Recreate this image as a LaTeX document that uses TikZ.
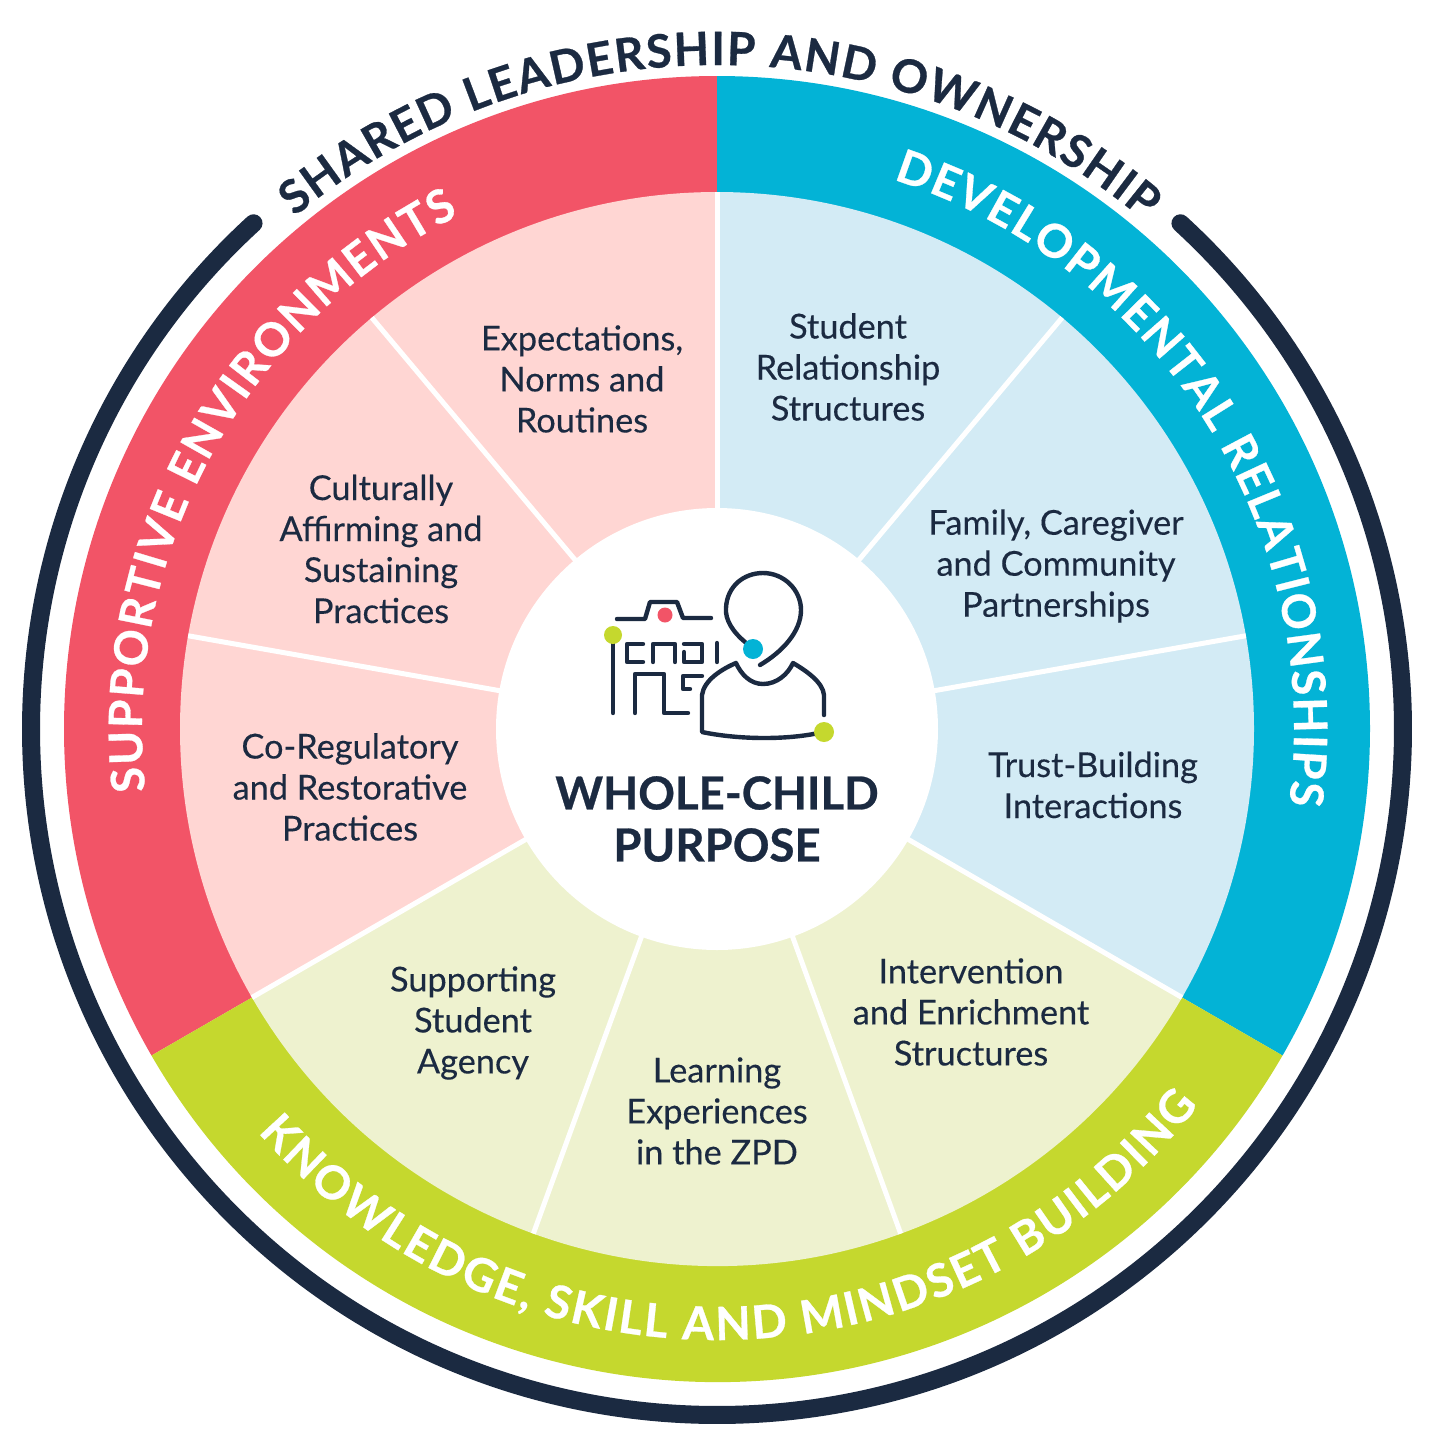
\documentclass[tikz,border=0pt]{standalone}
\usepackage{fontspec}
\setmainfont[FakeBold=0.25,BoldFeatures={FakeBold=0.6}]{Lato}
\usetikzlibrary{decorations.text}
\definecolor{inkdark}{HTML}{1B2A41}
\definecolor{ringred}{HTML}{F25467}
\definecolor{ringcyan}{HTML}{03B3D6}
\definecolor{ringlime}{HTML}{C5D82E}
\definecolor{softred}{HTML}{FFD6D3}
\definecolor{softcyan}{HTML}{D3EBF5}
\definecolor{softlime}{HTML}{EEF2CF}
\newcommand{\ringfont}{\fontsize{46}{46}\selectfont\bfseries}
\tikzset{
  lab/.style={font=\fontsize{34.3}{41}\selectfont, text=inkdark, align=center, inner sep=0pt},
  divider/.style={draw=white, line width=5pt},
  iconline/.style={draw=inkdark, line width=4.4pt, line cap=round, line join=round},
  ringtext/.style={decorate, decoration={text along path, text={#1}, text align={fit to path}}}
}
\begin{document}
\begin{tikzpicture}[x=1pt,y=1pt]
\useasboundingbox (0,0) rectangle (1436,-1444);
\fill[white] (0,0) rectangle (1436,-1444);
\begin{scope}[shift={(717,-729)}]
  % outer dark arc
  \draw[inkdark, line width=18pt, line cap=round] (132.5:686pt) arc (132.5:407.5:686pt);
  % coloured ring
  \fill[ringred] (0,0) -- (90:653pt) arc (90:210:653pt) -- cycle;
  \fill[ringcyan] (0,0) -- (90:653pt) arc (90:-30:653pt) -- cycle;
  \fill[ringlime] (0,0) -- (210:653pt) arc (210:330:653pt) -- cycle;
  % soft sectors
  \fill[softred] (0,0) -- (90:537pt) arc (90:210:537pt) -- cycle;
  \fill[softcyan] (0,0) -- (90:537pt) arc (90:-30:537pt) -- cycle;
  \fill[softlime] (0,0) -- (210:537pt) arc (210:330:537pt) -- cycle;
  % dividers
  \foreach \a in {90,130,170,210,250,290,330,10,50}
    \draw[divider] (0,0) -- (\a:537pt);
  \fill[white] (0,0) circle (221pt);
  % ring texts
  \path[ringtext={|\ringfont\color{inkdark}|SHARED LEADERSHIP AND OWNERSHIP}] (129.5:664pt) arc (129.5:50pt:664pt);
  \path[ringtext={|\ringfont\color{white}|SUPPORTIVE ENVIRONMENTS}] (186.2:575pt) arc (186.2:116.7:575pt);
  \path[ringtext={|\ringfont\color{white}|DEVELOPMENTAL RELATIONSHIPS}] (72.2:577pt) arc (72.2:-7.5:577pt);
  \path[ringtext={|\ringfont\color{white}|KNOWLEDGE, SKILL AND MINDSET BUILDING}] (221.3:611pt) arc (221.3:322:611pt);
\end{scope}
% sector labels
\node[lab] (expect) at (582,-379) {Expectations,\\Norms and\\Routines};
\node[lab] (cult) at (381,-549) {Culturally\\Affirming and\\Sustaining\\Practices};
\node[lab] (coreg) at (350,-787) {Co-Regulatory\\and Restorative\\Practices};
\node[lab] (student) at (848,-367) {Student\\Relationship\\Structures};
\node[lab] (family) at (1056,-566) {Family, Caregiver\\and Community\\Partnerships};
\node[lab] (trust) at (1093,-785) {Trust-Building\\Interactions};
\node[lab] (agency) at (473,-1023) {Supporting\\Student\\Agency};
\node[lab] (zpd) at (717,-1111) {Learning\\Experiences\\in the ZPD};
\node[lab] (interv) at (971,-1012) {Intervention\\and Enrichment\\Structures};
\node[font=\fontsize{45.5}{52}\selectfont\bfseries, text=inkdark, align=center, inner sep=0pt] (purpose) at (717,-819) {WHOLE-CHILD\\PURPOSE};
% icon
\begin{scope}[yscale=-1]
  \draw[iconline] (617,619) -- (645,619) -- (650,602) -- (677,602) -- (683,618) -- (711,618);
  \draw[iconline] (613,643) -- (613,713);
  \draw[iconline] (643,644) -- (627,644) -- (627,662) -- (643,662);
  \draw[iconline] (653,662) -- (653,644) -- (675,644) -- (675,662);
  \draw[iconline] (684,644) -- (702,644) -- (702,662) -- (684,662) -- (684,652);
  \draw[iconline] (717,643) -- (717,662);
  \draw[iconline] (635,713) -- (635,674) -- (664,674) -- (664,713) -- (688,713);
  \draw[iconline] (702,676) -- (683,676) -- (683,689) -- (690,689);
  \draw[iconline] (745,642) .. controls (733,632) and (725,620) .. (726,608)
     .. controls (727,586) and (744,573) .. (763,573)
     .. controls (784,573) and (801,590) .. (801,610)
     .. controls (801,632) and (782,652) .. (760,665);
  \draw[iconline] (824,715) -- (824,695) .. controls (823,682) and (805,670) .. (793,663)
     .. controls (788,674) and (777,684) .. (763,684)
     .. controls (750,684) and (741,674) .. (736,663)
     .. controls (722,669) and (704,680) .. (702,695)
     -- (702,732) .. controls (740,740) and (790,740) .. (823,732);
  \fill[ringlime] (824,732) circle (10pt);
  \fill[ringcyan] (753,649) circle (10pt);
  \fill[ringred] (665,615) circle (7.5pt);
  \fill[ringlime] (613,635) circle (9pt);
\end{scope}
\end{tikzpicture}
\end{document}
